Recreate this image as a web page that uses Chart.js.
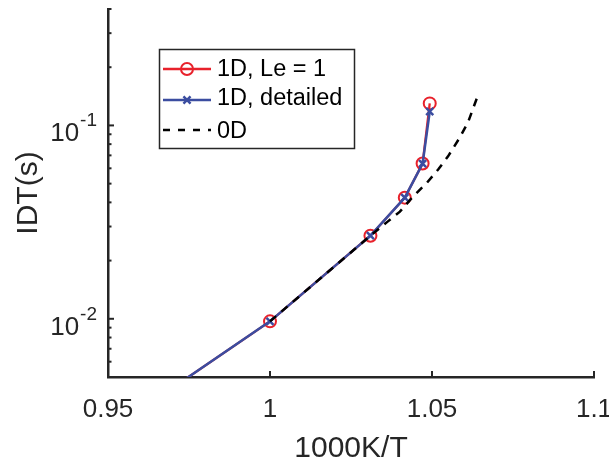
<!DOCTYPE html>
<html>
<head>
<meta charset="utf-8">
<title>IDT vs 1000K/T</title>
<script src="https://cdn.jsdelivr.net/npm/chart.js@4.4.1/dist/chart.umd.min.js"></script>
<style>
  html, body { margin: 0; padding: 0; background: #fff; }
  #wrap { width: 609px; height: 460px; }
</style>
</head>
<body>
<div id="wrap"><canvas id="idtChart"></canvas></div>
<script>
// tick values
const xTickValues = [0.95, 1, 1.05, 1.1];
const yMajorTicks = [0.01, 0.1];
const yMinorTicks = [0.006, 0.007, 0.008, 0.009, 0.02, 0.03, 0.04, 0.05, 0.06, 0.07, 0.08, 0.09, 0.2, 0.3, 0.4];

// 1D runs (first point sits below the visible range)
const invT1D = [0.95, 1.0, 1.031, 1.0416, 1.0471, 1.0493];
const idtLe1 = [0.0026, 0.0097, 0.0269, 0.0423, 0.0635, 0.130];
const idtDetailed = [0.0026, 0.0097, 0.0269, 0.0423, 0.0635, 0.118];

// 0D reactor
const invT0D = [1.0, 1.031, 1.0364, 1.0401, 1.0441, 1.0485, 1.0519, 1.0549, 1.0586, 1.0611, 1.0638];
const idt0D = [0.0097, 0.0269, 0.0319, 0.0358, 0.0428, 0.0507, 0.0591, 0.069, 0.0867, 0.1036, 0.1375];

const seriesNames = ["1D, Le = 1", "1D, detailed", "0D"];

const FONT = '"Liberation Sans", Arial, Helvetica, sans-serif';
const INK = "#262626";
const RED = "#e8212b";
const BLUE = "#3b4da0";

const toPoints = (xs, ys) => xs.map((x, i) => ({ x, y: ys[i] }));

function strokeLine(ctx, x1, y1, x2, y2) {
  ctx.beginPath();
  ctx.moveTo(x1, y1);
  ctx.lineTo(x2, y2);
  ctx.stroke();
}

// inward ticks, tick labels, axis titles and the boxed legend
const matlabAxes = {
  id: "matlabAxes",
  afterDraw(chart) {
    const { ctx, chartArea: a, scales } = chart;
    const x = scales.x, y = scales.y;
    ctx.save();
    ctx.strokeStyle = INK;
    ctx.lineWidth = 2;

    xTickValues.forEach((v) => {
      const px = x.getPixelForValue(v);
      strokeLine(ctx, px, a.bottom, px, a.bottom - 6);
    });
    yMajorTicks.forEach((v) => {
      const py = y.getPixelForValue(v);
      strokeLine(ctx, a.left, py, a.left + 6, py);
    });
    yMinorTicks.forEach((v) => {
      const py = y.getPixelForValue(v);
      strokeLine(ctx, a.left, py, a.left + 3.5, py);
    });

    ctx.fillStyle = INK;
    ctx.textBaseline = "alphabetic";
    ctx.textAlign = "center";
    ctx.font = `26px ${FONT}`;
    xTickValues.forEach((v) => {
      ctx.fillText(String(v), x.getPixelForValue(v), a.bottom + 40);
    });

    ctx.textAlign = "right";
    yMajorTicks.forEach((v) => {
      const py = y.getPixelForValue(v);
      const exp = String(Math.round(Math.log10(v)));
      ctx.font = `19px ${FONT}`;
      const w = ctx.measureText(exp).width;
      ctx.fillText(exp, a.left - 11, py + 1);
      ctx.font = `26px ${FONT}`;
      ctx.fillText("10", a.left - 12 - w, py + 16);
    });

    ctx.textAlign = "center";
    ctx.font = `30px ${FONT}`;
    ctx.fillText("1000K/T", (a.left + a.right) / 2, 457);
    ctx.save();
    ctx.translate(37, (a.top + a.bottom) / 2);
    ctx.rotate(-Math.PI / 2);
    ctx.fillText("IDT(s)", 0, 0);
    ctx.restore();

    // legend
    const bx = a.left + 51, by = 49;
    ctx.fillStyle = "#fff";
    ctx.fillRect(bx, by, 195, 99);
    ctx.lineWidth = 1.5;
    ctx.strokeStyle = INK;
    ctx.strokeRect(bx + 0.5, by + 0.5, 195, 99);

    const rowY = [69, 100, 130];
    const textY = [76, 105, 138];
    chart.data.datasets.forEach((ds, i) => {
      const ly = rowY[i];
      ctx.save();
      ctx.strokeStyle = ds.borderColor;
      ctx.lineWidth = ds.borderWidth;
      ctx.setLineDash(ds.borderDash ? [7, 8] : []);
      strokeLine(ctx, bx + 4, ly, bx + 52, ly);
      ctx.setLineDash([]);
      if (ds.pointRadius > 0) {
        ctx.strokeStyle = ds.pointBorderColor;
        ctx.fillStyle = "rgba(0,0,0,0)";
        ctx.lineWidth = ds.pointBorderWidth;
        Chart.helpers.drawPoint(ctx, {
          pointStyle: ds.pointStyle,
          radius: ds.pointRadius,
          borderWidth: ds.pointBorderWidth,
          rotation: 0,
        }, bx + 28, ly);
      }
      ctx.restore();
      ctx.fillStyle = "#000";
      ctx.textAlign = "left";
      ctx.font = `23.5px ${FONT}`;
      ctx.fillText(seriesNames[i], bx + 58, textY[i]);
    });
    ctx.restore();
  },
};

new Chart(document.getElementById("idtChart"), {
  type: "line",
  data: {
    datasets: [
      {
        label: seriesNames[0],
        data: toPoints(invT1D, idtLe1),
        borderColor: RED,
        borderWidth: 2.3,
        pointStyle: "circle",
        pointRadius: 6,
        pointBorderWidth: 2,
        pointBorderColor: RED,
        pointBackgroundColor: "rgba(0,0,0,0)",
        tension: 0,
        order: 3,
      },
      {
        label: seriesNames[1],
        data: toPoints(invT1D, idtDetailed),
        borderColor: BLUE,
        borderWidth: 2.5,
        pointStyle: "crossRot",
        pointRadius: 5,
        pointBorderWidth: 2.5,
        pointBorderColor: BLUE,
        pointBackgroundColor: BLUE,
        tension: 0,
        order: 2,
      },
      {
        label: seriesNames[2],
        data: toPoints(invT0D, idt0D),
        borderColor: "#000",
        borderWidth: 2.5,
        borderDash: [8, 7],
        pointRadius: 0,
        tension: 0,
        order: 1,
      },
    ],
  },
  options: {
    responsive: true,
    maintainAspectRatio: false,
    animation: false,
    layout: { padding: { top: 9, right: 15, left: 0, bottom: 0 } },
    plugins: {
      legend: { display: false },
      tooltip: { enabled: false },
    },
    scales: {
      x: {
        type: "linear",
        min: 0.95,
        max: 1.1,
        grid: { display: false },
        border: { display: true, color: INK, width: 2.5 },
        ticks: { display: false },
        afterFit(s) { s.height = 83; },
      },
      y: {
        type: "logarithmic",
        min: 0.005,
        max: 0.4,
        grid: { display: false },
        border: { display: true, color: INK, width: 2.5 },
        ticks: { display: false },
        afterFit(s) { s.width = 108; },
      },
    },
  },
  plugins: [matlabAxes],
});
</script>
</body>
</html>
